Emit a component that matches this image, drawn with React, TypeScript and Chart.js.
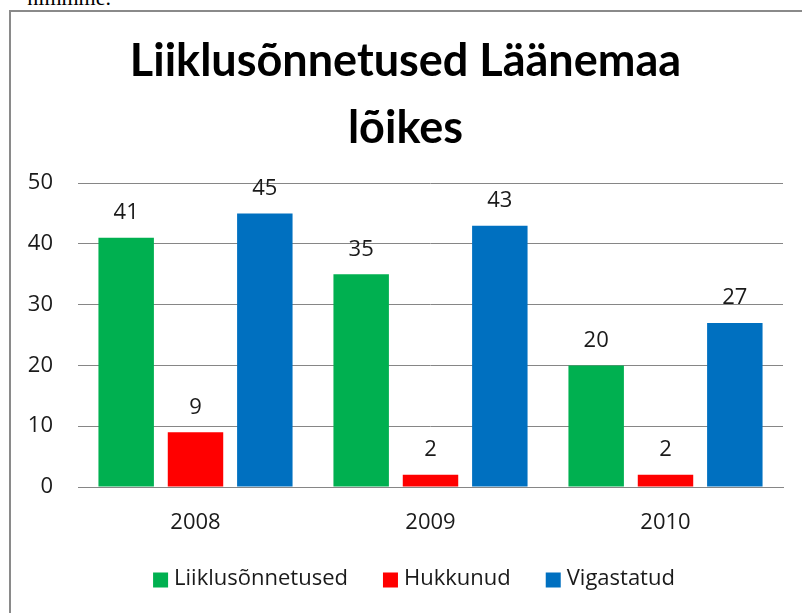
import React, { useEffect, useRef } from "react";
import { Chart, registerables } from "chart.js";

Chart.register(...registerables);

const categories = ["2008", "2009", "2010"];
const seriesNames = ["Liiklusõnnetused", "Hukkunud", "Vigastatud"];
const liiklusonnetused = [41, 35, 20];
const hukkunud = [9, 2, 2];
const vigastatud = [45, 43, 27];
const seriesColors = ["#00B050", "#FF0000", "#0070C0"];
const yTicks = [0, 10, 20, 30, 40, 50];
const titleLines = ["Liiklusõnnetused Läänemaa", "lõikes"];

const TEXT_FONT = "'Open Sans', 'DejaVu Sans', sans-serif";
const TITLE_FONT = "Lato, 'Open Sans', sans-serif";
const TEXT_COLOR = "#1a1a1a";

const valueLabels = {
  id: "valueLabels",
  afterDatasetsDraw(chart: any) {
    const ctx = chart.ctx;
    ctx.save();
    ctx.font = `22px ${TEXT_FONT}`;
    ctx.fillStyle = TEXT_COLOR;
    ctx.textAlign = "center";
    ctx.textBaseline = "middle";
    chart.data.datasets.forEach((ds: any, i: number) => {
      const meta = chart.getDatasetMeta(i);
      meta.data.forEach((bar: any, j: number) => {
        ctx.fillText(String(ds.data[j]), bar.x, bar.y - 25);
      });
    });
    ctx.restore();
  },
};

const customLegend = {
  id: "customLegend",
  afterDraw(chart: any) {
    const ctx = chart.ctx;
    ctx.save();
    ctx.font = `22px ${TEXT_FONT}`;
    ctx.textBaseline = "middle";
    ctx.textAlign = "left";
    const box = 15;
    const gap = 6;
    const itemGap = 35;
    const items = chart.data.datasets.map((ds: any) => ({
      label: ds.label,
      color: ds.backgroundColor,
      w: ctx.measureText(ds.label).width,
    }));
    const total =
      items.reduce((s: number, it: any) => s + box + gap + it.w, 0) +
      itemGap * (items.length - 1);
    let x = 414 - total / 2;
    const y = 579;
    items.forEach((it: any) => {
      ctx.fillStyle = it.color;
      ctx.fillRect(x, y - box / 2 + 1, box, box);
      x += box + gap;
      ctx.fillStyle = TEXT_COLOR;
      ctx.fillText(it.label, x, y);
      x += it.w + itemGap;
    });
    ctx.restore();
  },
};

export default function App() {
  const canvasRef = useRef<HTMLCanvasElement>(null);

  useEffect(() => {
    if (!canvasRef.current) return;
    const chart = new Chart(canvasRef.current, {
      type: "bar",
      data: {
        labels: categories,
        datasets: [
          { label: seriesNames[0], data: liiklusonnetused, backgroundColor: seriesColors[0] },
          { label: seriesNames[1], data: hukkunud, backgroundColor: seriesColors[1] },
          { label: seriesNames[2], data: vigastatud, backgroundColor: seriesColors[2] },
        ],
      },
      options: {
        animation: false,
        responsive: false,
        maintainAspectRatio: false,
        datasets: {
          bar: { categoryPercentage: 0.885, barPercentage: 0.8 },
        },
        layout: { padding: { left: 28, right: 19, top: 0, bottom: 56 } },
        plugins: {
          legend: { display: false },
          tooltip: { enabled: false },
          title: {
            display: true,
            text: titleLines,
            color: "#000000",
            font: { family: TITLE_FONT, size: 45, weight: "bold", lineHeight: 1.49 },
            padding: { top: 28, bottom: 21 },
          },
        },
        scales: {
          x: {
            grid: { display: false, drawTicks: false },
            border: { display: true, color: "#868686", width: 1 },
            ticks: { color: TEXT_COLOR, font: { family: TEXT_FONT, size: 22 }, padding: 23 },
            afterFit(scale: any) {
              scale.height = 70;
            },
          },
          y: {
            min: 0,
            max: 50,
            afterBuildTicks(scale: any) {
              scale.ticks = yTicks.map((v) => ({ value: v }));
            },
            grid: { color: "#868686", lineWidth: 1, drawTicks: false },
            border: { display: false },
            ticks: { color: TEXT_COLOR, font: { family: TEXT_FONT, size: 22 }, padding: 25 },
            afterFit(scale: any) {
              scale.width = 50;
            },
          },
        },
      },
      plugins: [valueLabels, customLegend],
    });
    return () => chart.destroy();
  }, []);

  return (
    <div
      style={{
        position: "fixed",
        left: 0,
        top: 0,
        width: 802,
        height: 613,
        overflow: "hidden",
        background: "#ffffff",
      }}
    >
      <div
        style={{
          position: "absolute",
          left: -200,
          width: 311,
          top: -13,
          textAlign: "right",
          fontFamily: "'Liberation Serif', 'DejaVu Serif', serif",
          fontSize: 22,
          lineHeight: "22px",
          color: "#000",
          whiteSpace: "nowrap",
        }}
      >
        nimmme.
      </div>
      <div
        style={{
          position: "absolute",
          left: 9,
          top: 10,
          width: 840,
          height: 640,
          border: "2px solid #8a8a8a",
          boxSizing: "border-box",
        }}
      />
      <canvas
        ref={canvasRef}
        width={802}
        height={613}
        style={{ position: "absolute", left: 0, top: 0, width: 802, height: 613 }}
      />
    </div>
  );
}
